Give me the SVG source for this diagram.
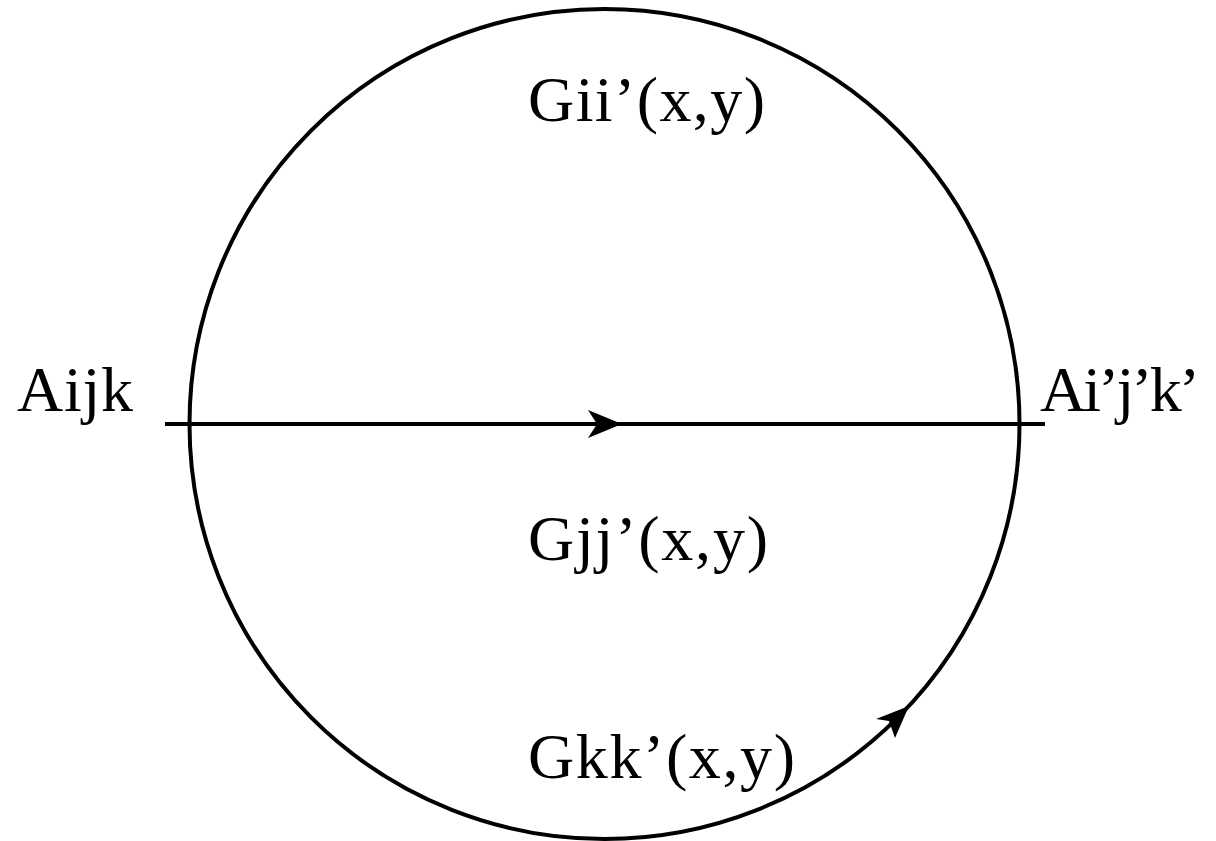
<svg xmlns="http://www.w3.org/2000/svg" width="1216" height="841" viewBox="0 0 1216 841">
<style>
.lbl{font-family:"Liberation Serif","DejaVu Serif",serif;font-size:64px;fill:#000}
.ln{fill:none;stroke:#000;stroke-width:4}
</style>
<rect width="1216" height="841" fill="#fff"/>
<g id="connectors">
<circle class="ln" cx="604.5" cy="424" r="415"/>
<line class="ln" x1="165" y1="424" x2="1045" y2="424"/>
<path d="M622,424 L588,410 L597,424 L588,438 Z" fill="#000"/>
<path d="M909,706 L876,719 L889,721 L895,738 Z" fill="#000"/>
</g>
<g id="node-aijk"><text class="lbl" x="17" y="411" textLength="116">Aijk</text></g>
<g id="node-aijk2"><text class="lbl" x="1040" y="411" textLength="160">Ai’j’k’</text></g>
<g id="label-gii"><text class="lbl" x="528" y="121" textLength="237">Gii’(x,y)</text></g>
<g id="label-gjj"><text class="lbl" x="528" y="560" textLength="240">Gjj’(x,y)</text></g>
<g id="label-gkk"><text class="lbl" x="528" y="778" textLength="267">Gkk’(x,y)</text></g>
</svg>
